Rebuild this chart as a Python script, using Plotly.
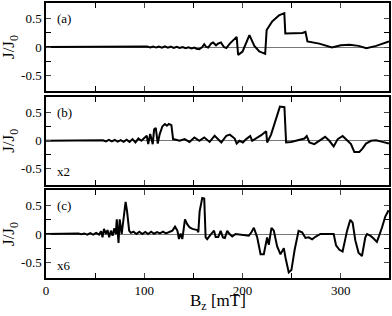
import plotly.graph_objects as go

# panel (a)
a_x = [0, 100, 103, 106, 109, 112, 115, 118, 121, 124,
       127, 130, 133, 136, 139, 142, 145, 148, 151, 153,
       156, 159, 161, 163, 165, 168, 170, 173, 175, 178,
       181, 183.5, 187, 194, 195.5, 200, 207, 212, 217, 220,
       223, 224.5, 230, 237, 242.5, 243.5, 255, 261, 264, 266,
       278, 291, 300, 309, 318, 326, 336, 349]
a_y = [0, 0, 0.008, -0.008, 0.01, -0.01, 0.008, -0.012, 0.01, -0.012,
       0.008, -0.015, 0.005, -0.018, 0.0, -0.02, -0.005, -0.025, -0.01, -0.03,
       -0.04, 0.0, 0.05, 0.0, -0.01, 0.06, 0.08, 0.03, 0.06, 0.08,
       0.0, -0.02, 0.06, 0.18, -0.14, -0.08, 0.21, 0.02, -0.08, -0.1,
       -0.12, 0.3, 0.45, 0.56, 0.6, 0.24, 0.24, 0.25, 0.27, 0.1,
       0.06, -0.01, 0.03, 0.04, 0.02, -0.02, 0.02, 0.1]

# panel (b), scaled x2
b_x = [0, 55, 58, 61, 64, 67, 70, 73, 76, 79,
       82, 85, 88, 91, 94, 97, 100, 102.5, 104, 106,
       108.6, 110, 111.7, 113.7, 115.7, 118.5, 121, 123, 125, 127.6,
       129.3, 133, 136, 141, 146, 151, 156, 161, 166.5, 171.6,
       178.4, 183.5, 187, 192, 194, 197, 200.3, 203.7, 207.8, 209.8,
       213.9, 219, 224, 225, 229, 234, 238, 242.6, 244.3, 249.4,
       257.9, 263, 265.3, 268, 273, 278, 284, 288.3, 292.7, 296.8,
       301.8, 306.9, 310.3, 313.7, 318.8, 322, 325.6, 330.7, 335.8, 342.4,
       349]
b_y = [0, 0, 0.01, -0.01, 0.015, -0.01, 0.015, -0.015, 0.01, -0.02,
       0.02, -0.02, 0.03, -0.03, 0.04, 0.0, 0.05, 0.09, -0.06, 0.12,
       -0.06, 0.2, 0.23, -0.05, 0.12, 0.26, 0.3, 0.27, 0.3, 0.28,
       0.03, 0.01, 0.0, 0.03, -0.02, 0.06, 0.0, 0.06, -0.02, 0.09,
       -0.03, 0.09, 0.11, 0.04, -0.05, 0.0, -0.03, 0.03, 0.085, 0.0,
       0.04, 0.1, 0.17, -0.03, 0.11, 0.4, 0.61, 0.6, -0.03, -0.02,
       0.01, 0.04, 0.085, -0.03, -0.06, 0.0, 0.07, 0.0, -0.1, 0.03,
       0.085, 0.0, -0.06, -0.2, -0.2, -0.14, -0.05, 0.0, 0.01, -0.02,
       -0.05]

# panel (c), scaled x6
c_x = [0, 30, 33, 36, 39, 42, 45, 48, 51, 54,
       56, 57.5, 59, 61, 62.6, 64.3, 66, 67.7, 69.4, 71,
       72, 73.8, 75, 77, 78.5, 81, 82.5, 84.6, 86.3, 89,
       92, 95, 98, 101, 104, 107, 110, 113, 116, 119,
       122, 125, 128.6, 131.3, 133.7, 135.3, 137, 138.7, 141.4, 143.8,
       146.2, 149, 154, 155, 156.3, 159, 161, 162.4, 164, 167.5,
       171, 172.6, 175.3, 177.7, 180, 182, 184.4, 186.8, 189.5, 192.9,
       199.7, 206.4, 209, 211.5, 214.9, 218.3, 221.6, 225, 226.7, 229.4,
       231.8, 235.2, 238.6, 242, 243.7, 247, 249.7, 253, 257, 260.6,
       264, 267.3, 270.8, 274.1, 279.2, 289.3, 292.7, 295.1, 298.5, 301.8,
       306.3, 309.6, 312, 314.7, 318, 321.5, 324.9, 326.6, 330, 333.3,
       336.7, 341.8, 345.2, 348.6]
c_y = [0, 0, 0.01, -0.005, 0.01, -0.01, 0.015, -0.01, 0.02, -0.01,
       0.05, -0.06, 0.09, 0.0, 0.07, -0.06, 0.06, -0.03, 0.1, 0.0,
       0.26, -0.16, 0.26, 0.0, 0.23, 0.57, 0.4, 0.06, 0.02, 0.04,
       0.0, 0.04, 0.0, 0.035, 0.0, 0.04, 0.005, 0.035, 0.01, 0.04,
       0.01, 0.03, 0.06, 0.13, 0.06, -0.09, 0.01, -0.09, 0.26, 0.17,
       0.115, 0.09, 0.07, 0.03, 0.4, 0.64, 0.63, -0.06, -0.09, -0.01,
       0.06, -0.055, -0.055, 0.055, -0.06, -0.07, 0.055, 0.0, -0.045, 0.0,
       -0.02, -0.03, 0.03, 0.11, -0.06, -0.36, -0.36, -0.06, -0.19, 0.11,
       0.06, -0.22, -0.36, -0.25, -0.42, -0.68, -0.64, -0.28, 0.055, 0.03,
       -0.07, -0.06, -0.095, -0.05, 0.0, -0.01, 0.0, -0.2, -0.28, -0.31,
       0.055, 0.25, 0.2, -0.11, -0.33, -0.39, -0.06, 0.0, -0.03, -0.08,
       -0.14, 0.11, 0.31, 0.42]

panel_labels = ['(a)', '(b)', '(c)']
scale_labels = ['', 'x2', 'x6']
x_ticks = [0, 100, 200, 300]
y_ticks = [-0.5, 0, 0.5]
y_ticktext = ['-0.5', '0', '0.5']

FONT = '"Liberation Serif", "Times New Roman", serif'

series = [(a_x, a_y), (b_x, b_y), (c_x, c_y)]
domains = [[0.68, 1.0], [0.34, 0.658], [0.0, 0.32]]
suffix = ['', '2', '3']

fig = go.Figure()
layout = {}
for i, (xs, ys) in enumerate(series):
    s = suffix[i]
    fig.add_trace(go.Scatter(x=xs, y=ys, mode='lines', xaxis='x' + s, yaxis='y' + s,
                             line=dict(color='black', width=2), showlegend=False))
    layout['xaxis' + s] = dict(
        domain=[0, 1], anchor='y' + s, range=[0, 349], tickvals=x_ticks,
        ticks='inside', ticklen=5, showline=True, linecolor='black', linewidth=1.5,
        mirror='ticks', showgrid=False, zeroline=False,
        minor=dict(dtick=50, tick0=0, ticks='inside', ticklen=5, tickcolor='black'),
        showticklabels=(i == 2),
        tickfont=dict(family=FONT, size=13, color='black'))
    layout['yaxis' + s] = dict(
        domain=domains[i], anchor='x' + s, range=[-0.78, 0.78],
        tickvals=y_ticks, ticktext=y_ticktext, ticks='inside', ticklen=5,
        showline=True, linecolor='black', linewidth=1.5, mirror='ticks',
        showgrid=False, zeroline=True, zerolinecolor='#777', zerolinewidth=1,
        minor=dict(tickvals=[-0.25, 0.25], ticks='inside', ticklen=5, tickcolor='black'),
        tickfont=dict(family=FONT, size=13, color='black'))

fig.update_layout(**layout)

for i in range(3):
    s = suffix[i]
    d0, d1 = domains[i]
    fig.add_annotation(text='J/J<sub>0</sub>', xref='paper', yref='paper',
                       x=-0.105, y=(d0 + d1) / 2, textangle=-90, showarrow=False,
                       xanchor='center', yanchor='middle',
                       font=dict(family=FONT, size=17, color='black'))
    fig.add_annotation(text=panel_labels[i], xref='x' + s + ' domain', yref='y' + s,
                       x=0.025, y=0.5, xanchor='left', yanchor='middle', showarrow=False,
                       font=dict(family=FONT, size=13, color='black'))
    if scale_labels[i]:
        fig.add_annotation(text=scale_labels[i], xref='x' + s + ' domain', yref='y' + s,
                           x=0.025, y=-0.55, xanchor='left', yanchor='middle', showarrow=False,
                           font=dict(family=FONT, size=13, color='black'))

fig.add_annotation(text='B<sub>z</sub> [mT]', xref='paper', yref='paper',
                   x=0.5, y=-0.04, xanchor='center', yanchor='top', showarrow=False,
                   font=dict(family=FONT, size=17, color='black'))

fig.update_layout(width=392, height=316,
                  margin=dict(l=46, r=2, t=1, b=38),
                  plot_bgcolor='white', paper_bgcolor='white')

fig.write_html("out.html", config={'displayModeBar': False},
               post_script="document.body.style.margin='0px';")
